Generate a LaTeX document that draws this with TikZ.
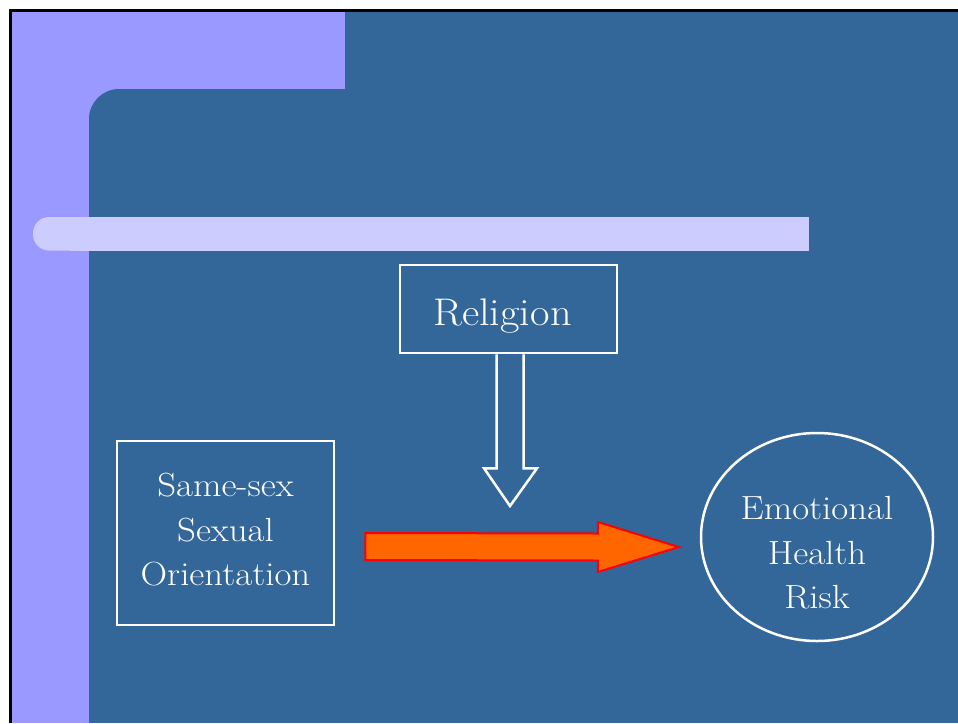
\documentclass[tikz,border=0pt]{standalone}
\usepackage{fontspec}
\setmainfont{Latin Modern Roman}[FakeStretch=1.1]
\usetikzlibrary{calc,shapes.geometric}
\definecolor{bgblue}{HTML}{336699}
\definecolor{lav}{HTML}{9999FF}
\definecolor{barc}{HTML}{CCCCFF}
\definecolor{orangef}{HTML}{FF6600}
\definecolor{redl}{HTML}{FF0000}
\begin{document}
\begin{tikzpicture}[x=1pt,y=-1pt,
  box/.style={draw=white, line width=2.5pt, inner sep=0pt},
  lbl/.style={text=white, inner sep=0pt, align=center},
  hollow/.style={draw=white, line width=2.5pt, line join=miter},
  bigarrow/.style={fill=orangef, draw=redl, line width=2pt, line join=miter}]
\useasboundingbox (0,0) rectangle (958,723);
% background
\fill[white] (0,0) rectangle (958,723);
\fill[black] (9,9) rectangle (958,723);
\fill[bgblue] (11.7,11.7) rectangle (958,723);
\fill[lav] (11.7,11.7) rectangle (345,89);
\fill[lav] (11.7,11.7) rectangle (89,723);
\fill[lav] (89,89) rectangle (119,119);
\fill[bgblue] (119,119) circle (30pt);
% light bar
\fill[barc, rounded corners=16pt] (33,217) rectangle (90,250.5);
\fill[barc] (70,217) rectangle (809,250.5);
% boxes
\node[box, minimum width=217pt, minimum height=88pt] (rel) at (508.5,309) {};
\node[lbl, anchor=base, font=\fontsize{38.5}{44}\selectfont] (relt) at (502.5,325) {Religion};
\node[box, minimum width=217pt, minimum height=184pt] (sso) at (225.5,533) {};
\node[lbl, font=\fontsize{33.5}{44.5}\selectfont] (ssot) at (225.5,530) {Same-sex\\Sexual\\Orientation};
\node[box, ellipse, minimum width=232pt, minimum height=208pt] (ehr) at (817,537) {};
\node[lbl, font=\fontsize{33.5}{44.5}\selectfont] (ehrt) at (817,553) {Emotional\\Health\\Risk};
% down hollow arrow
\coordinate (dtop) at ($(rel.south)+(1.5,0)$);
\coordinate (dtip) at (510,506);
\draw[hollow] ($(dtop)+(-13.5,0)$) -- ($(dtop)+(-13.5,114)$) -- ($(dtop)+(-26,114)$) -- (dtip)
  -- ($(dtop)+(27,114)$) -- ($(dtop)+(13.5,114)$) -- ($(dtop)+(13.5,0)$);
% orange arrow
\coordinate (oa) at ($(sso.east)+(30,13.5)$);
\coordinate (ob) at ($(ehr.west)+(-21,10)$);
\draw[bigarrow] ($(oa)+(0,-13.5)$) -- ($(ob)+(-81,-13.5)$) -- ($(ob)+(-81,-25)$) -- (ob)
  -- ($(ob)+(-81,25)$) -- ($(ob)+(-81,13.5)$) -- ($(oa)+(0,13.5)$) -- cycle;
\end{tikzpicture}
\end{document}
